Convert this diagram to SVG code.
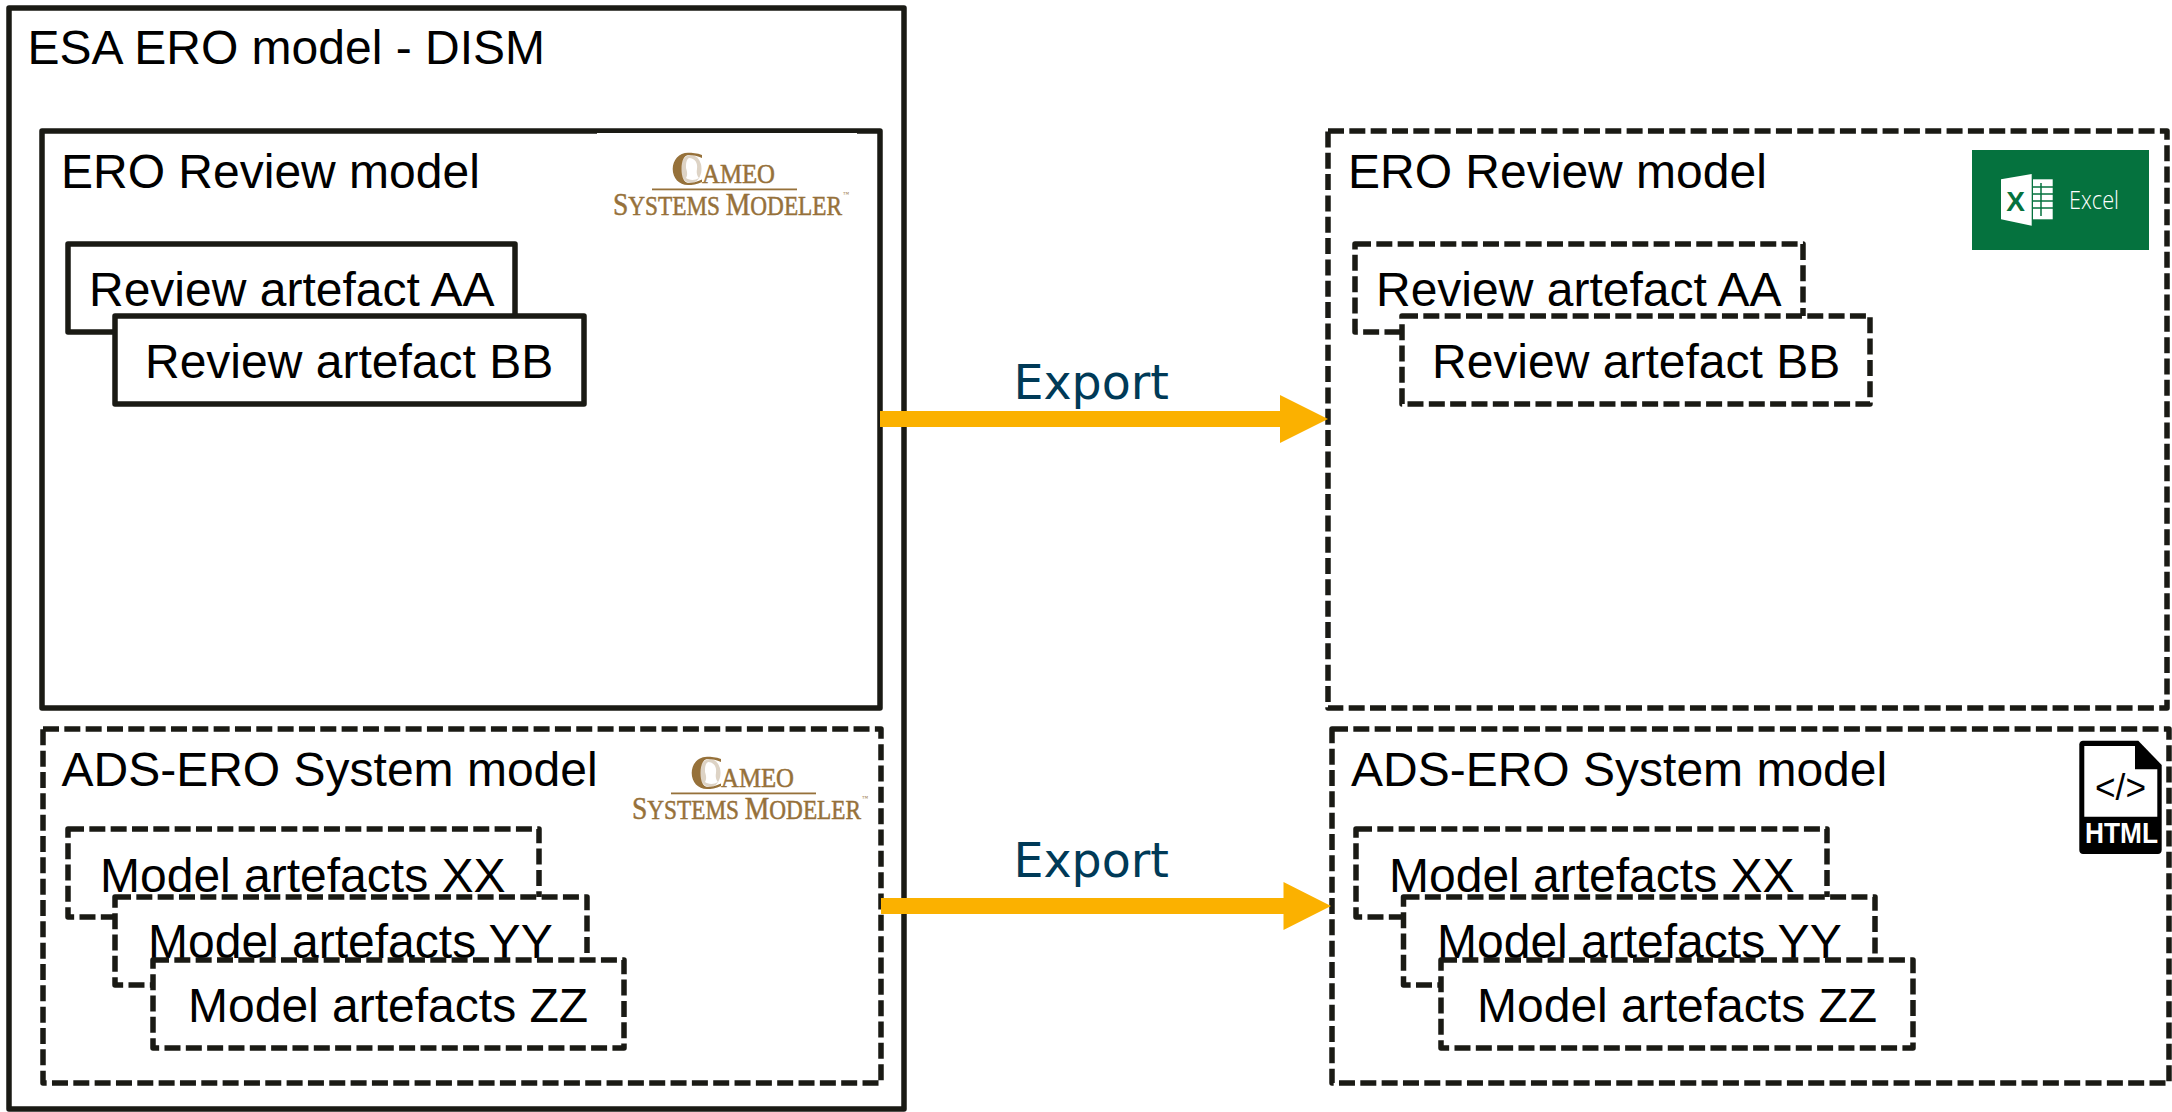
<svg xmlns="http://www.w3.org/2000/svg" width="2172" height="1112" viewBox="0 0 2172 1112">
<style>
.s{fill:#fff;stroke:#1a1a14;stroke-width:5.5;stroke-linejoin:round}
.d{stroke-dasharray:16 5.33}
.t{font-family:"Liberation Sans",Arial,sans-serif;font-size:48px;fill:#000}
.e{font-family:"DejaVu Sans",Verdana,sans-serif;font-size:47.5px;fill:#003a57}
.a{fill:#fbb100}
.c{font-family:"Liberation Serif","Times New Roman",serif;fill:#96713a;stroke:#96713a;stroke-width:.5}
</style>
<defs>
<g id="cameo-mark">
<ellipse cx="691" cy="169" rx="10.5" ry="14" fill="#ddd3c5"/>
<path d="M689 158C695 158 698 163 697 169C696 174 698 177 699 178C695 181 688 180 686 178C688 175 687 171 686 168C686 164 686 160 689 158Z" fill="#fff"/>
<path d="M702 155C697 153 692 152.7 688 152.7C679 152.7 672.7 160 672.7 169C672.7 178 679 185 688 185C692 185 697 184.5 702 182L702 179.5C697 182 692 183 689 183C684 183 681.5 177 681.5 169C681.5 161 684 155 689 155C693 155 698 156 702 158Z" fill="#96713a"/>
</g>
</defs>
<rect width="2172" height="1112" fill="#fff"/>

<g id="esa-ero-model">
<rect class="s" x="9" y="8" width="895" height="1101"/>
<text class="t" x="27.5" y="63.5">ESA ERO model - DISM</text>
</g>

<g id="ero-review-left">
<rect class="s" x="42" y="131" width="838" height="577"/>
<rect x="597" y="133" width="260" height="1.2" fill="#fff"/>
<text class="t" x="61" y="187.5">ERO Review model</text>
<g id="cameo-logo-1">
<use href="#cameo-mark"/>
<text class="c" x="702" y="182.7" font-size="27" textLength="73" lengthAdjust="spacingAndGlyphs">AMEO</text>
<rect x="652" y="188.5" width="145" height="1.8" fill="#96713a"/>
<text class="c" x="613" y="215" font-size="27" textLength="229" lengthAdjust="spacingAndGlyphs"><tspan font-size="32">S</tspan>YSTEMS <tspan font-size="32">M</tspan>ODELER</text>
<text class="c" x="843" y="196" font-size="6" style="stroke:none">™</text>
</g>
</g>
<g id="review-aa-left">
<rect class="s" x="68" y="244" width="447" height="88"/>
<text class="t" x="89" y="306">Review artefact AA</text>
</g>
<g id="review-bb-left">
<rect class="s" x="115" y="316" width="469" height="88"/>
<text class="t" x="145" y="378">Review artefact BB</text>
</g>

<g id="ads-left">
<rect class="s d" x="43" y="729" width="838" height="354"/>
<text class="t" x="61.5" y="785.5">ADS-ERO System model</text>
<g id="cameo-logo-2" transform="translate(19 604)">
<use href="#cameo-mark"/>
<text class="c" x="702" y="182.7" font-size="27" textLength="73" lengthAdjust="spacingAndGlyphs">AMEO</text>
<rect x="652" y="188.5" width="145" height="1.8" fill="#96713a"/>
<text class="c" x="613" y="215" font-size="27" textLength="229" lengthAdjust="spacingAndGlyphs"><tspan font-size="32">S</tspan>YSTEMS <tspan font-size="32">M</tspan>ODELER</text>
<text class="c" x="843" y="196" font-size="6" style="stroke:none">™</text>
</g>
</g>
<g id="xx-left">
<rect class="s d" x="68" y="829" width="471" height="88"/>
<text class="t" x="100" y="892">Model artefacts XX</text>
</g>
<g id="yy-left">
<rect class="s d" x="115" y="897" width="472" height="88"/>
<text class="t" x="148" y="958">Model artefacts YY</text>
</g>
<g id="zz-left">
<rect class="s d" x="153" y="960" width="471" height="88"/>
<text class="t" x="188" y="1022">Model artefacts ZZ</text>
</g>

<g id="ero-review-right">
<rect class="s d" x="1328" y="131" width="839" height="577"/>
<text class="t" x="1348" y="187.5">ERO Review model</text>
<g id="excel-logo">
<rect x="1972" y="150" width="177" height="100" fill="#05723e"/>
<polygon points="2001,179.3 2031.7,174 2031.7,225.7 2001,219.3" fill="#fff"/>
<rect x="2033" y="179.3" width="19.7" height="40" fill="#fff"/>
<path d="M2041 183v33M2033 187h20M2033 194h20M2033 201h20M2033 208h20" stroke="#05723e" stroke-width="1.5" fill="none"/>
<text x="2015.5" y="211" font-family="'Liberation Sans',Arial,sans-serif" font-weight="700" font-size="28" fill="#05723e" text-anchor="middle">X</text>
<text x="2069" y="208.5" font-family="'Open Sans',sans-serif" font-weight="300" font-size="26" fill="#fff" textLength="50" lengthAdjust="spacingAndGlyphs">Excel</text>
</g>
</g>
<g id="review-aa-right">
<rect class="s d" x="1355" y="244" width="448" height="88"/>
<text class="t" x="1376" y="306">Review artefact AA</text>
</g>
<g id="review-bb-right">
<rect class="s d" x="1402" y="316" width="468" height="88"/>
<text class="t" x="1432" y="378">Review artefact BB</text>
</g>

<g id="ads-right">
<rect class="s d" x="1332" y="729" width="837" height="354"/>
<text class="t" x="1351" y="785.5">ADS-ERO System model</text>
<g id="html-logo">
<path d="M2083 740.7H2138.3L2161.7 765V850C2161.7 852.5 2160 854 2158 854H2083C2081 854 2079.3 852.5 2079.3 850V744.5C2079.3 742 2081 740.7 2083 740.7Z" fill="#000"/>
<path d="M2084.3 746H2135V769.3H2157.3V816.7H2084.3Z" fill="#fff"/>
<text x="2120.5" y="800" font-family="'Liberation Sans',Arial,sans-serif" font-size="36" text-anchor="middle" textLength="51" lengthAdjust="spacingAndGlyphs" fill="#000">&lt;/&gt;</text>
<text x="2085" y="843.3" font-family="'Liberation Sans',Arial,sans-serif" font-weight="700" font-size="29" textLength="73" lengthAdjust="spacingAndGlyphs" fill="#fff">HTML</text>
</g>
</g>
<g id="xx-right">
<rect class="s d" x="1356" y="829" width="471" height="88"/>
<text class="t" x="1389" y="892">Model artefacts XX</text>
</g>
<g id="yy-right">
<rect class="s d" x="1403.5" y="897" width="471.5" height="88"/>
<text class="t" x="1437" y="958">Model artefacts YY</text>
</g>
<g id="zz-right">
<rect class="s d" x="1441" y="960" width="472" height="88"/>
<text class="t" x="1477" y="1022">Model artefacts ZZ</text>
</g>

<g id="connectors">
<polygon class="a" points="880,411 1280,411 1280,395 1328,419 1280,443 1280,427 880,427"/>
<polygon class="a" points="881,898 1283.5,898 1283.5,882 1331,906 1283.5,930 1283.5,914 881,914"/>
<text class="e" x="1013.5" y="399">Export</text>
<text class="e" x="1013.5" y="877">Export</text>
</g>
</svg>
